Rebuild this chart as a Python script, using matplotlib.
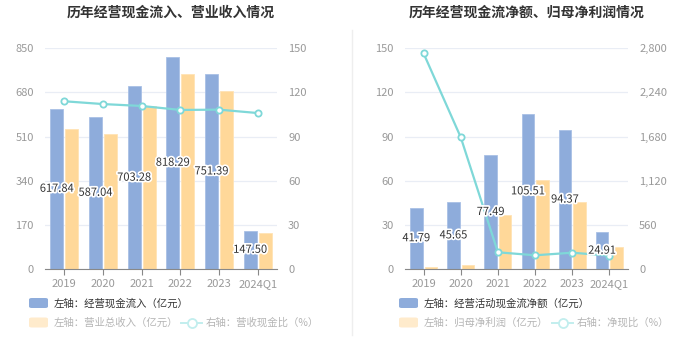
import matplotlib
matplotlib.use("Agg")
import matplotlib.pyplot as plt
import matplotlib.patheffects as pe
from matplotlib.lines import Line2D
from matplotlib.patches import FancyBboxPatch
from matplotlib.ticker import FuncFormatter
import numpy as np

plt.rcParams["font.family"] = ["Noto Sans CJK SC", "DejaVu Sans"]

years = ["2019", "2020", "2021", "2022", "2023", "2024Q1"]

# left chart
cash_inflow = [617.84, 587.04, 703.28, 818.29, 751.39, 147.50]
revenue = [538.0, 519.0, 629.0, 750.0, 687.0, 137.0]
cash_ratio = [114.0, 112.1, 110.8, 108.1, 108.3, 106.0]

# right chart
op_cash_net = [41.79, 45.65, 77.49, 105.51, 94.37, 24.91]
net_profit = [1.5, 2.7, 36.4, 60.2, 45.4, 14.7]
net_ratio = [2736, 1671, 212, 174, 207, 169]

BLUE = "#8eacdb"
ORANGE = "#ffd899"
TEAL = "#7fd8d8"
GRID = "#e9edf5"
TICK = "#999999"

W, H = 700, 360


def px_axes(fig, x0, x1, y0, y1):
    return fig.add_axes([x0 / W, 1 - y1 / H, (x1 - x0) / W, (y1 - y0) / H])


def draw_panel(ax, bars1, bars2, line, lmax, rmax, title, title_x, rfmt):
    x = np.arange(len(years))
    width = 0.34
    ax.bar(x - 0.195, bars1, width, color=BLUE, edgecolor="#a9c0e6", linewidth=0.6, zorder=2)
    ax.bar(x + 0.195, bars2, width, color=ORANGE, edgecolor="#ffe3b5", linewidth=0.6, zorder=2)
    ax.set_xlim(-0.5, len(years) - 0.5)
    ax.set_ylim(0, lmax)
    ax.set_yticks(np.linspace(0, lmax, 6))
    ax.yaxis.set_major_formatter(FuncFormatter(lambda v, p: f"{v:.0f}"))
    ax.set_xticks(x)
    ax.set_xticklabels(years)
    ax.grid(axis="y", color=GRID, linewidth=0.9, zorder=0)
    ax.set_axisbelow(True)
    for s in ["top", "left", "right"]:
        ax.spines[s].set_visible(False)
    ax.spines["bottom"].set_color("#888888")
    ax.tick_params(axis="x", colors="#888888", length=4, labelsize=8, labelcolor=TICK, pad=3)
    ax.tick_params(axis="y", length=0, labelsize=8, labelcolor=TICK, pad=8)

    ax2 = ax.twinx()
    ax2.plot(x, line, color=TEAL, linewidth=1.6, marker="o", markersize=4.5,
             markerfacecolor="white", markeredgecolor=TEAL, markeredgewidth=1.3, zorder=5)
    ax2.set_ylim(0, rmax)
    ax2.set_yticks(np.linspace(0, rmax, 6))
    ax2.yaxis.set_major_formatter(FuncFormatter(rfmt))
    for s in ["top", "left", "right", "bottom"]:
        ax2.spines[s].set_visible(False)
    ax2.tick_params(axis="y", length=0, labelsize=8, labelcolor=TICK, pad=8)

    # value labels on top of everything, positioned in the left-axis data space
    for xi, v in zip(x, bars1):
        ax2.text(xi - 0.195, v / 2, f"{v:.2f}", ha="center", va="center", fontsize=8,
                 color="#333333", zorder=6, transform=ax.transData,
                 path_effects=[pe.withStroke(linewidth=2.5, foreground="white")])

    ax.figure.text(title_x / W, 1 - 13 / H, title, ha="center", va="center",
                   fontsize=10, fontweight="bold", color="#333333")


def legend(fig, x0, y_row1, y_row2, label1, label2, label3, x_line):
    def rect(x, y, color):
        fig.patches.append(FancyBboxPatch((x / W, 1 - (y + 5) / H), 19 / W, 10 / H,
                                          boxstyle="round,pad=0,rounding_size=0.004",
                                          transform=fig.transFigure, facecolor=color,
                                          edgecolor="none"))
    rect(x0, y_row1, BLUE)
    fig.text((x0 + 25) / W, 1 - y_row1 / H, label1, ha="left", va="center",
             fontsize=7.5, color="#333333")
    rect(x0, y_row2, "#ffebcc")
    fig.text((x0 + 25) / W, 1 - y_row2 / H, label2, ha="left", va="center",
             fontsize=7.5, color="#b5b5b5")
    fig.add_artist(Line2D([x_line / W, (x_line + 21) / W], [1 - y_row2 / H] * 2,
                          transform=fig.transFigure, color="#c2eeee", linewidth=1.4))
    fig.add_artist(Line2D([(x_line + 10.5) / W], [1 - y_row2 / H], transform=fig.transFigure,
                          marker="o", markersize=6.5, markerfacecolor="white",
                          markeredgecolor="#c2eeee", markeredgewidth=1.3))
    fig.text((x_line + 25) / W, 1 - y_row2 / H, label3, ha="left", va="center",
             fontsize=7.5, color="#b5b5b5")


fig = plt.figure(figsize=(7, 3.6), dpi=100)

ax_l = px_axes(fig, 45, 277, 48.3, 269)
draw_panel(ax_l, cash_inflow, revenue, cash_ratio, 850, 150,
           "历年经营现金流入、营业收入情况", 171, lambda v, p: f"{v:.0f}")

ax_r = px_axes(fig, 405, 628, 48.3, 269)
draw_panel(ax_r, op_cash_net, net_profit, net_ratio, 150, 2800,
           "历年经营现金流净额、归母净利润情况", 527, lambda v, p: f"{v:,.0f}")

legend(fig, 29, 303, 322.5, "左轴：经营现金流入（亿元）", "左轴：营业总收入（亿元）",
       "右轴：营收现金比（%）", 181)
legend(fig, 399, 303, 322.5, "左轴：经营活动现金流净额（亿元）", "左轴：归母净利润（亿元）",
       "右轴：净现比（%）", 552)

fig.add_artist(Line2D([352 / W, 352 / W], [1 - 30 / H, 1 - 335 / H],
                      transform=fig.transFigure, color="#eeeeee", linewidth=1))

fig.savefig("out.png", dpi=100)
